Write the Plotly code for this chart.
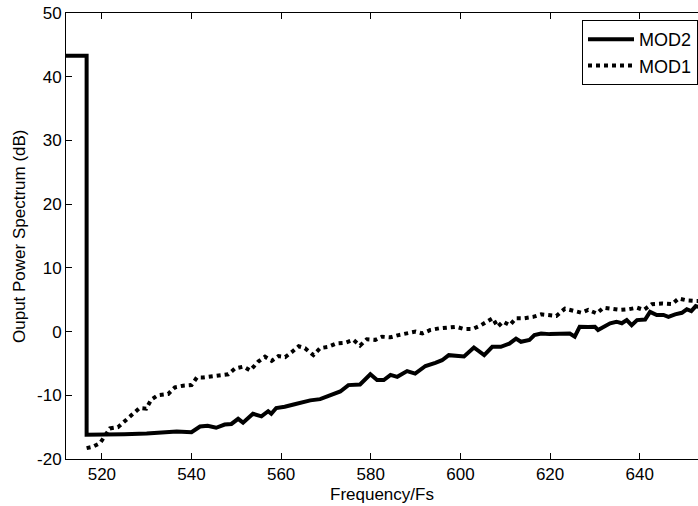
import plotly.graph_objects as go

# MOD2 (solid) — frequency / power (dB)
mod2_x = [512, 516.6, 516.6, 520, 525, 530, 536.7, 540.0, 541.9, 543.6, 545.5, 547.4, 548.9,
          550.4, 551.5, 553.7, 555.6, 557.1, 557.8, 558.9, 560.8, 563.0, 564.6, 566.5,
          568.7, 570.9, 573.2, 575.0, 577.6, 579.9, 581.4, 582.9, 584.4, 585.9, 588.1,
          589.9, 592.2, 594.4, 595.9, 597.4, 599.3, 600.8, 603.0, 605.3, 607.1, 609.0,
          610.9, 612.4, 613.5, 615.4, 616.5, 618.0, 619.9, 622.5, 624.4, 625.5, 626.6,
          628.5, 630.0, 630.7, 632.2, 633.4, 634.8, 636.0, 637.1, 638.2, 639.4, 641.2,
          642.3, 643.8, 645.3, 646.4, 647.9, 649.4, 650.5, 651.5, 652.5, 653.5]
mod2_y = [43.3, 43.3, -16.2, -16.2, -16.1, -16.0, -15.7, -15.8, -14.9, -14.8, -15.1, -14.6, -14.5,
          -13.7, -14.3, -12.9, -13.3, -12.5, -12.9, -12.0, -11.8, -11.4, -11.1, -10.8,
          -10.6, -10.0, -9.4, -8.4, -8.3, -6.7, -7.6, -7.6, -6.8, -7.1, -6.2,
          -6.6, -5.4, -4.9, -4.5, -3.7, -3.9, -3.9, -2.5, -3.7, -2.4, -2.4,
          -1.9, -1.1, -1.6, -1.3, -0.55, -0.3, -0.4, -0.4, -0.3, -0.8, 0.75,
          0.7, 0.75, 0.25, 0.75, 1.3, 1.55, 1.3, 1.8, 1.0, 1.8, 1.9,
          3.1, 2.6, 2.6, 2.3, 2.7, 2.95, 3.5, 3.2, 4.0, 3.8]

# MOD1 (dotted)
mod1_x = [516.6, 517.9, 519.6, 521.8, 523.6, 525.1, 526.6, 528.4, 529.9, 531.0, 532.5, 534.8,
          536.3, 538.1, 540.0, 541.2, 542.6, 544.5, 546.4, 548.2, 549.7, 551.6, 553.1,
          554.9, 556.4, 557.9, 559.4, 560.9, 562.4, 563.9, 565.3, 567.2, 568.7, 570.5,
          572.4, 574.3, 576.1, 577.6, 579.1, 581.0, 582.5, 584.4, 586.2, 588.1, 590.0,
          591.5, 593.3, 595.2, 597.1, 599.0, 600.8, 602.7, 604.6, 606.1, 607.2, 608.3,
          609.5, 611.0, 612.4, 614.3, 616.2, 618.0, 619.9, 621.4, 623.3, 625.1, 627.0,
          628.5, 630.4, 631.9, 633.7, 635.6, 637.5, 639.4, 640.9, 642.7, 645.0, 647.2,
          648.7, 650.5, 652.5, 653.5]
mod1_y = [-18.3, -18.1, -17.5, -15.2, -15.0, -14.1, -13.0, -12.0, -12.1, -10.7, -10.0, -9.8,
          -8.75, -8.5, -8.4, -7.2, -7.2, -7.0, -6.9, -6.7, -5.8, -5.5, -6.1,
          -4.7, -3.95, -4.6, -3.85, -4.0, -3.2, -2.3, -2.6, -3.7, -2.6, -2.4,
          -1.85, -1.75, -1.3, -2.2, -1.2, -1.3, -0.8, -0.9, -0.55, -0.3, 0.0,
          -0.3, 0.25, 0.5, 0.7, 0.75, 0.4, 0.4, 1.0, 1.55, 2.1, 0.75,
          1.55, 1.0, 2.1, 2.1, 2.3, 2.7, 2.6, 2.45, 3.6, 3.25, 2.95,
          3.4, 2.85, 3.75, 3.6, 3.4, 3.5, 3.75, 3.4, 4.3, 4.4, 4.3,
          5.2, 4.9, 4.8, 4.8]

x_ticks = [520, 540, 560, 580, 600, 620, 640]
y_ticks = [-20, -10, 0, 10, 20, 30, 40, 50]
y_ticktext = ["-20", "-10", "0", "10", "20", "30", "40", "50"]
x_title = "Frequency/Fs"
y_title = "Ouput Power Spectrum (dB)"

FONT = "Liberation Sans, Arial, sans-serif"

fig = go.Figure()
fig.add_trace(go.Scatter(x=mod2_x, y=mod2_y, mode="lines", name="MOD2",
                         line=dict(color="black", width=4)))
fig.add_trace(go.Scatter(x=mod1_x, y=mod1_y, mode="lines", name="MOD1",
                         line=dict(color="black", width=4, dash="dot")))

axis_common = dict(showline=True, linecolor="black", linewidth=1,
                   ticks="inside", ticklen=6, tickcolor="black", tickwidth=1,
                   showgrid=False, zeroline=False, automargin=False,
                   tickfont=dict(family=FONT, size=17, color="black"))

fig.update_layout(
    width=698, height=506,
    margin=dict(l=66, r=0, t=13, b=47),
    plot_bgcolor="white", paper_bgcolor="white",
    font=dict(family=FONT, size=17, color="black"),
    xaxis=dict(range=[512, 653], tickvals=x_ticks, mirror="ticks", **axis_common),
    yaxis=dict(range=[-20, 50], tickvals=y_ticks, ticktext=y_ticktext, mirror=False,
               **axis_common),
    legend=dict(x=(582 - 66) / 632, y=(459 - 20) / 446, xanchor="left", yanchor="top",
                bgcolor="white", bordercolor="black", borderwidth=1,
                font=dict(family=FONT, size=18), itemwidth=46,
                tracegroupgap=0),
    showlegend=True,
    annotations=[
        dict(text=x_title, xref="paper", yref="paper", x=0.5, y=0,
             xanchor="center", yanchor="middle", yshift=-35, showarrow=False,
             font=dict(family=FONT, size=17, color="black")),
        dict(text=y_title, xref="paper", yref="paper", x=0, y=0.5,
             xanchor="center", yanchor="middle", xshift=-47, textangle=-90,
             showarrow=False, font=dict(family=FONT, size=17, color="black")),
    ],
)

fig.write_html("out.html", config={"displayModeBar": False},
               post_script="document.body.style.margin='0';document.body.style.overflow='hidden';")
